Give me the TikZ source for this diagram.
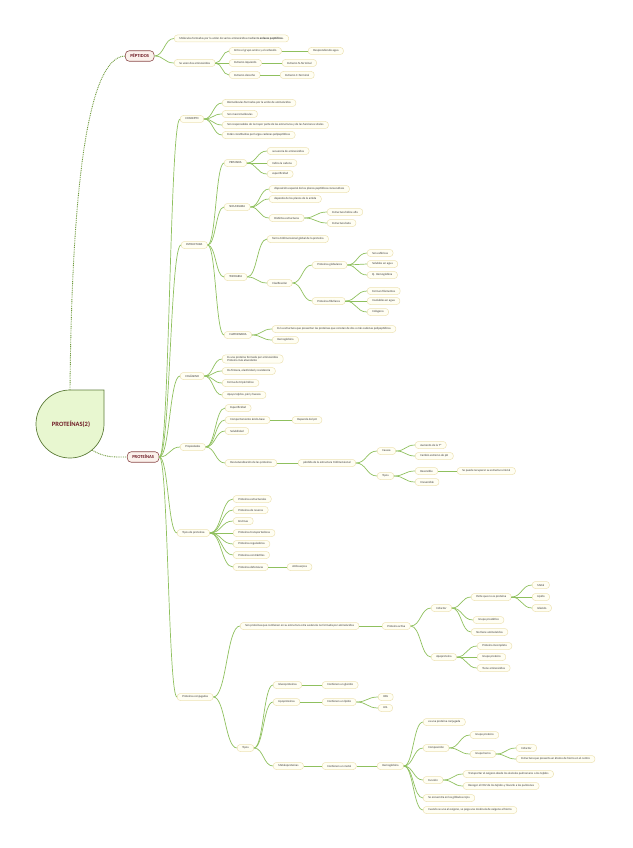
\documentclass[tikz,border=0pt]{standalone}
\usepackage{fontspec}
\setmainfont{Carlito}
\usetikzlibrary{calc}
\definecolor{linkgreen}{HTML}{8FC05E}
\definecolor{dotgreen}{HTML}{6F9A3C}
\definecolor{boxline}{HTML}{EDE2B4}
\definecolor{boxfill}{HTML}{FFFEF3}
\definecolor{topicline}{HTML}{8C4B4B}
\definecolor{topicfill}{HTML}{FBF1EC}
\definecolor{topictext}{HTML}{6E1A24}
\definecolor{rootfill}{HTML}{E8F7D0}
\definecolor{rootline}{HTML}{5E7D3A}
\definecolor{leaftext}{HTML}{3A3A3A}
\tikzset{
  leaf/.style={draw=boxline, fill=boxfill, line width=0.5pt, rounded corners=3pt, anchor=west,
    inner xsep=5pt, inner ysep=1.2pt, minimum height=7pt, text=leaftext,
    font=\fontsize{3}{3.6}\selectfont},
  topic/.style={draw=topicline, fill=topicfill, line width=0.6pt, rounded corners=4pt, anchor=west,
    inner xsep=5pt, minimum height=10pt, text=topictext, font=\fontsize{4.6}{5}\selectfont\bfseries},
  link/.style={draw=linkgreen, line width=0.7pt,
    to path={let \p1=(\tikztostart), \p2=(\tikztotarget) in
      .. controls ({(\x1+\x2)/2},\y1) and ({(\x1+\x2)/2},\y2) .. (\tikztotarget)}},
  rootlink/.style={draw=dotgreen, line width=0.9pt, dash pattern=on 0.9pt off 0.9pt}
}
\begin{document}
\begin{tikzpicture}[x=1pt,y=-1pt]
\useasboundingbox (0,0) rectangle (632,848);
% central topic
\draw[fill=rootfill, draw=rootline, line width=0.7pt] (70,390) -- (104,390) -- (104,424)
  arc[start angle=0, end angle=-270, radius=34pt] -- cycle;
\node[font=\fontsize{6.5}{7.5}\selectfont\bfseries, text=topictext] (root) at (71,424) {PROTEÍNAS(2)};
\coordinate (roottop) at (70,390);
\coordinate (rootbr) at (92,450);

\node[topic] (pep) at (125,56) {PÉPTIDOS};
\node[topic] (prot) at (127,457) {PROTEÍNAS};
\draw[rootlink] (roottop) .. controls (72,160) and (92,57) .. (pep.west);
\draw[rootlink] (rootbr) .. controls (105,458) and (115,457) .. (prot.west);

% peptidos
\node[leaf] (pepA) at (174,38.5) {Moléculas formadas por la unión de varios aminoácidos mediante \textbf{enlaces peptídicos}.};
\node[leaf] (pepB) at (174,63) {Se unen dos aminoácidos};
\node[leaf] (pepB1) at (229,51) {Entre el grupo amino y el carboxilo};
\node[leaf] (pepB1a) at (308,51) {Desprendiendo agua};
\node[leaf] (pepB2) at (229,63) {Extremo izquierdo};
\node[leaf] (pepB2a) at (282,63) {Extremo N-Terminal};
\node[leaf] (pepB3) at (229,75) {Extremo derecho};
\node[leaf] (pepB3a) at (280,75) {Extremo C-Terminal};

% concepto
\node[leaf] (con) at (180,119) {CONCEPTO};
\node[leaf] (con1) at (222,103) {Biomoléculas formadas por la unión de aminoácidos};
\node[leaf] (con2) at (222,114) {Son macromoléculas};
\node[leaf] (con3) at (222,125) {Son responsables de la mayor parte de las estructuras y de las funciones vitales};
\node[leaf] (con4) at (222,135) {Están constituidas por largas cadenas polipeptídicas};

% estructura
\node[leaf] (est) at (181,245) {ESTRUCTURA};
\node[leaf] (pri) at (224,163) {PRIMARIA};
\node[leaf] (pri1) at (267,151) {secuencia de aminoácidos};
\node[leaf] (pri2) at (267,163) {Indica la cadena};
\node[leaf] (pri3) at (267,174) {especificidad};
\node[leaf] (sec) at (224,207) {SECUNDARIA};
\node[leaf] (sec1) at (269,189) {disposición espacial de los planos peptídicos consecutivos};
\node[leaf] (sec2) at (269,199) {depende de los planos de la amida};
\node[leaf] (sec3) at (269,218) {Distintas estructuras};
\node[leaf] (sec3a) at (327,212) {Estructura hélice alfa};
\node[leaf] (sec3b) at (327,223) {Estructura beta};
\node[leaf] (ter) at (224,277) {TERCIARIA};
\node[leaf] (ter1) at (267,239) {forma tridimensional global de la proteína};
\node[leaf] (ter2) at (267,283) {Clasificación};
\node[leaf] (glo) at (312,265) {Proteínas globulares};
\node[leaf] (glo1) at (367,253) {Son esféricas};
\node[leaf] (glo2) at (367,264) {Solubles en agua};
\node[leaf] (glo3) at (367,275) {Ej. Hemoglobina};
\node[leaf] (fib) at (312,301) {Proteínas fibrilares};
\node[leaf] (fib1) at (367,291) {Forman filamentos};
\node[leaf] (fib2) at (367,301) {Insolubles en agua};
\node[leaf] (fib3) at (367,312) {Colágeno};
\node[leaf] (cua) at (224,335) {CUATERNARIA};
\node[leaf] (cua1) at (272,329) {Es la estructura que presentan las proteínas que constan de dos o más cadenas polipeptídicas};
\node[leaf] (cua2) at (272,340) {Hemoglobina};

% colageno
\node[leaf] (col) at (180,376) {COLÁGENO};
\node[leaf, align=left] (col1) at (222,359) {Es una proteína formada por aminoácidos\\Proteína más abundante};
\node[leaf] (col2) at (222,371) {Da firmeza, elasticidad y resistencia};
\node[leaf] (col3) at (222,383) {Forma de triple hélice};
\node[leaf] (col4) at (222,395) {Apoya tejidos, piel y huesos};

% propiedades
\node[leaf] (pro) at (180,447) {Propiedades};
\node[leaf] (pro1) at (225,408) {Especificidad};
\node[leaf] (pro2) at (225,420) {Comportamiento ácido-base};
\node[leaf] (pro2a) at (292,420) {Depende del pH};
\node[leaf] (pro3) at (225,431) {Solubilidad};
\node[leaf] (pro4) at (225,463) {Desnaturalización de las proteínas};
\node[leaf] (den) at (298,463) {pérdida de la estructura tridimensional};
\node[leaf] (cau) at (377,451) {Causas};
\node[leaf] (cau1) at (415,445) {Aumento de la T°};
\node[leaf] (cau2) at (415,456) {Cambio extremo de pH};
\node[leaf] (tip) at (377,476) {Tipos};
\node[leaf] (rev) at (415,471) {Reversible};
\node[leaf] (rev1) at (457,471) {Se puede recuperar su estructura inicial};
\node[leaf] (irr) at (415,482) {Irreversible};

% tipos de proteinas
\node[leaf] (tpp) at (177,533) {Tipos de proteínas};
\node[leaf] (tp1) at (233,499) {Proteínas estructurales};
\node[leaf] (tp2) at (233,510) {Proteínas de reserva};
\node[leaf] (tp3) at (233,521) {Enzimas};
\node[leaf] (tp4) at (233,533) {Proteínas transportadoras};
\node[leaf] (tp5) at (233,544) {Proteínas reguladoras};
\node[leaf] (tp6) at (233,555) {Proteínas contráctiles};
\node[leaf] (tp7) at (233,567) {Proteínas defensivas};
\node[leaf] (tp7a) at (287,567) {Anticuerpos};

% proteinas conjugadas
\node[leaf] (cjg) at (177,697) {Proteínas conjugadas};
\node[leaf] (cjA) at (240,626) {Son proteínas que contienen en su estructura otra sustancia no formada por aminoácidos};
\node[leaf] (act) at (382,626) {Proteína activa};
\node[leaf] (cof) at (431,608) {Cofactor};
\node[leaf] (cof1) at (471,597) {Parte que no es proteína};
\node[leaf] (met) at (532,585) {Metal};
\node[leaf] (lip) at (532,597) {Lípido};
\node[leaf] (glu) at (532,608) {Glúcido};
\node[leaf] (cof2) at (473,620) {Grupo prostético};
\node[leaf] (cof3) at (471,632) {No tiene aminoácidos};
\node[leaf] (apo) at (431,657) {Apoproteína};
\node[leaf] (apo1) at (477,646) {Proteína incompleta};
\node[leaf] (apo2) at (477,657) {Grupo proteico};
\node[leaf] (apo3) at (477,668) {Tiene aminoácidos};
\node[leaf] (cjT) at (237,748) {Tipos};
\node[leaf] (gp) at (273,685) {Glucoproteínas};
\node[leaf] (gp1) at (322,685) {Contienen un glúcido};
\node[leaf] (lp) at (273,702) {Lipoproteínas};
\node[leaf] (lp1) at (322,702) {Contienen un lípido};
\node[leaf] (hdl) at (378,697) {HDL};
\node[leaf] (ldl) at (378,708) {LDL};
\node[leaf] (mp) at (273,766) {Metaloproteínas};
\node[leaf] (mp1) at (322,766) {Contienen un metal};
\node[leaf] (hb) at (377,766) {Hemoglobina};
\node[leaf] (hb1) at (423,722) {es una proteína conjugada};
\node[leaf] (comp) at (423,748) {Composición};
\node[leaf] (gpro) at (470,735) {Grupo proteico};
\node[leaf] (ghem) at (470,754) {Grupo hemo};
\node[leaf] (gh1) at (516,748) {Cofactor};
\node[leaf] (gh2) at (516,759) {Estructura que presenta un átomo de hierro en el centro};
\node[leaf] (fun) at (423,780) {Función};
\node[leaf] (fun1) at (463,774) {Transportar el oxígeno desde los alvéolos pulmonares a los tejidos};
\node[leaf] (fun2) at (463,786) {Recoger el CO2 de los tejidos y llevarlo a los pulmones};
\node[leaf] (hb3) at (423,798) {Se encuentra en los glóbulos rojos};
\node[leaf] (hb4) at (423,810) {Cuando se une al oxígeno, se pega una molécula de oxígeno al hierro};

% branches
\foreach \a/\b in {prot/con, prot/est, prot/col, prot/pro, prot/tpp, prot/cjg,
    pep/pepA, pep/pepB, pepB/pepB1, pepB/pepB2, pepB/pepB3,
    pepB1/pepB1a, pepB2/pepB2a, pepB3/pepB3a,
    con/con1, con/con2, con/con3, con/con4,
    est/pri, est/sec, est/ter, est/cua,
    pri/pri1, pri/pri2, pri/pri3, sec/sec1, sec/sec2, sec/sec3, sec3/sec3a, sec3/sec3b,
    ter/ter1, ter/ter2, ter2/glo, ter2/fib, glo/glo1, glo/glo2, glo/glo3,
    fib/fib1, fib/fib2, fib/fib3, cua/cua1, cua/cua2,
    col/col1, col/col2, col/col3, col/col4,
    pro/pro1, pro/pro2, pro/pro3, pro/pro4, pro2/pro2a, pro4/den,
    den/cau, den/tip, cau/cau1, cau/cau2, tip/rev, tip/irr, rev/rev1,
    tpp/tp1, tpp/tp2, tpp/tp3, tpp/tp4, tpp/tp5, tpp/tp6, tpp/tp7, tp7/tp7a,
    cjg/cjA, cjg/cjT, cjA/act, act/cof, act/apo, cof/cof1, cof/cof2, cof/cof3,
    cof1/met, cof1/lip, cof1/glu, apo/apo1, apo/apo2, apo/apo3,
    cjT/gp, cjT/lp, cjT/mp, gp/gp1, lp/lp1, lp1/hdl, lp1/ldl, mp/mp1, mp1/hb,
    hb/hb1, hb/comp, hb/fun, hb/hb3, hb/hb4, comp/gpro, comp/ghem,
    ghem/gh1, ghem/gh2, fun/fun1, fun/fun2}
  \draw[link] (\a.east) to (\b.west);
\end{tikzpicture}
\end{document}
